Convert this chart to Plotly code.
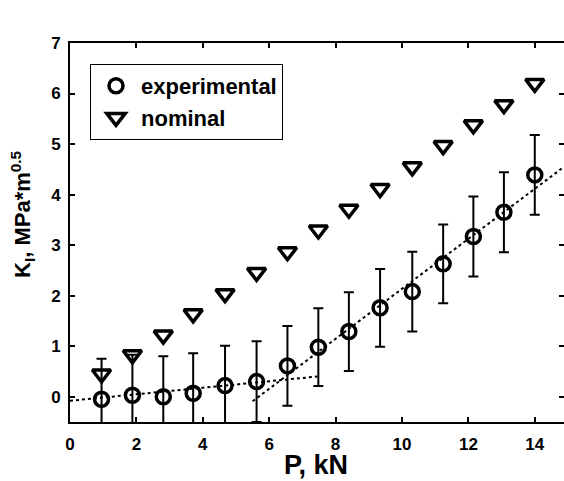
import plotly.graph_objects as go

# Data
P_exp = [0.95, 1.88, 2.81, 3.71, 4.67, 5.62, 6.55, 7.48, 8.40, 9.34, 10.31, 11.24, 12.15, 13.07, 14.0]
K_exp = [-0.05, 0.03, 0.0, 0.07, 0.22, 0.30, 0.61, 0.98, 1.29, 1.76, 2.08, 2.63, 3.17, 3.65, 4.39]
K_err = [0.80, 0.80, 0.80, 0.79, 0.79, 0.80, 0.79, 0.77, 0.78, 0.77, 0.79, 0.78, 0.79, 0.79, 0.79]
K_nom = [0.45, 0.83, 1.22, 1.64, 2.04, 2.46, 2.87, 3.30, 3.71, 4.12, 4.55, 4.97, 5.38, 5.78, 6.20]

fit1_x = [0.0, 7.45]
fit1_y = [-0.08, 0.40]
fit2_x = [5.5, 14.88]
fit2_y = [-0.09, 4.55]

x_ticks = [0, 2, 4, 6, 8, 10, 12, 14]
y_ticks = [0, 1, 2, 3, 4, 5, 6, 7]

FONT = "Liberation Sans, Arial, sans-serif"

L, T, R, B = 70, 43, 564, 422
W, H = 564, 481
PW, PH = R - L, B - T

fig = go.Figure()

for fx, fy in [(fit1_x, fit1_y), (fit2_x, fit2_y)]:
    fig.add_trace(go.Scatter(
        x=fx, y=fy, mode="lines",
        line=dict(color="black", width=2, dash="dot"),
        showlegend=False, hoverinfo="skip"))

fig.add_trace(go.Scatter(
    x=P_exp, y=K_exp, mode="markers", name="experimental",
    marker=dict(symbol="circle-open", size=14, color="black",
                line=dict(color="black", width=3.5)),
    error_y=dict(type="data", array=K_err, visible=True,
                 color="black", thickness=2, width=5)))

fig.add_trace(go.Scatter(
    x=P_exp, y=K_nom, mode="markers", name="nominal",
    marker=dict(symbol="triangle-down-open", size=16, color="black",
                line=dict(color="black", width=3.5))))

axis_common = dict(
    showline=True, linecolor="black", linewidth=2, mirror="ticks",
    ticks="inside", ticklen=5, tickwidth=2, tickcolor="black",
    showgrid=False, zeroline=False, automargin=False,
    tickfont=dict(family=FONT, size=17, color="black", weight="bold"),
)

fig.update_layout(
    width=W, height=H,
    margin=dict(l=L, r=W - R, t=T, b=H - B, pad=0),
    paper_bgcolor="white", plot_bgcolor="white",
    font=dict(family=FONT, color="black"),
    xaxis=dict(range=[0, 14.88], tickvals=x_ticks, ticklabelstandoff=6, **axis_common),
    yaxis=dict(range=[-0.5, 7], tickvals=y_ticks, ticklabelstandoff=4, **axis_common),
    legend=dict(x=(90 - L) / PW, y=(B - 64) / PH, xanchor="left", yanchor="top",
                bgcolor="white", bordercolor="black", borderwidth=1,
                font=dict(family=FONT, size=22, color="black", weight="bold"),
                itemwidth=40, tracegroupgap=0),
    annotations=[
        dict(text="<b>P, kN</b>", xref="paper", yref="paper",
             x=(316 - L) / PW, y=-(465 - B) / PH,
             xanchor="center", yanchor="middle", showarrow=False,
             font=dict(family=FONT, size=27, color="black")),
        dict(text="<b>K<sub>I</sub>, MPa*m<sup>0.5</sup></b>", xref="paper", yref="paper",
             x=-(L - 22) / PW, y=(B - 214) / PH,
             xanchor="center", yanchor="middle", showarrow=False, textangle=-90,
             font=dict(family=FONT, size=22, color="black")),
    ],
)

# remove the page's default 8px body margin so the figure fills the window exactly
fig.write_html("out.html", config={"displayModeBar": False},
               post_script="document.body.style.margin='0';")
